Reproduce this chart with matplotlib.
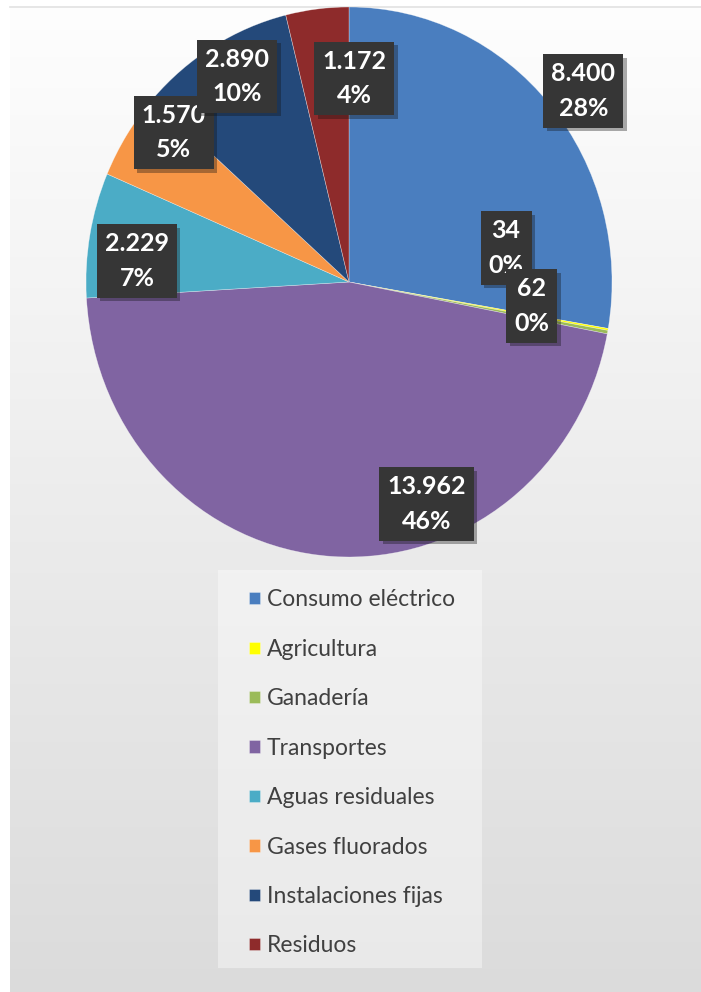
import numpy as np
import matplotlib
matplotlib.use('Agg')
import matplotlib.pyplot as plt
from matplotlib import patheffects as pe

# datos
categorias = ['Consumo eléctrico', 'Agricultura', 'Ganadería', 'Transportes',
              'Aguas residuales', 'Gases fluorados', 'Instalaciones fijas', 'Residuos']
valores = [8400, 34, 62, 13962, 2229, 1570, 2890, 1172]
colores = ['#4a7ebf', '#ffff00', '#9bbb59', '#8064a2',
           '#4bacc6', '#f79646', '#24497a', '#8e2b2b']

# ajuste de las etiquetas (radio relativo y giro en grados), como hace Excel
etq_radio = [1.13, 0.61, 0.70, 0.86, 0.81, 0.86, 0.86, 0.74]
etq_giro = [-2.2, 21.7, 3.3, 23.8, 4.5, -6.8, -1.5, -8.5]

W, H = 701, 992
fig = plt.figure(figsize=(W / 100, H / 100), dpi=100)
fig.patch.set_facecolor('white')

# fondo degradado
bg = fig.add_axes([10 / W, 0, 1 - 10 / W, 1 - 7 / H], zorder=0)
grad = np.linspace(0.995, 0.86, 256).reshape(-1, 1)
bg.imshow(np.dstack([grad, grad, grad]), aspect='auto', extent=[0, 1, 0, 1])
bg.set_axis_off()
fig.add_artist(plt.Line2D([10 / W, 1], [1 - 7 / H, 1 - 7 / H], color='#e2e2e2', lw=1.2))

# recuadro de la leyenda
fig.add_artist(plt.Rectangle((218 / W, 1 - 968 / H), 264 / W, 398 / H,
                             facecolor='white', alpha=0.4, edgecolor='none',
                             transform=fig.transFigure, zorder=1))

ax = fig.add_axes([86 / W, 1 - 557 / H, 526 / W, 550 / H], zorder=2)
ax.patch.set_alpha(0)
wedges, _ = ax.pie(valores, colors=colores, startangle=90, counterclock=False,
                   radius=1, wedgeprops=dict(linewidth=0.4, edgecolor=(1, 1, 1, 0.5)))
ax.set_aspect('auto')
ax.set_xlim(-1, 1)
ax.set_ylim(-1, 1)
ax.set_axis_off()

total = sum(valores)
acum = 0
for i, v in enumerate(valores):
    medio = acum + v / 2
    acum += v
    ang = np.deg2rad(90 - medio / total * 360 + etq_giro[i])
    x = etq_radio[i] * np.cos(ang)
    y = etq_radio[i] * np.sin(ang)
    txt = f"{v:,}".replace(',', '.') + "\n" + f"{round(100 * v / total)}%"
    t = ax.text(x, y, txt, ha='center', va='center', multialignment='center',
                color='white', fontsize=18, fontweight='bold', family='Lato',
                linespacing=1.6, zorder=10 + i,
                bbox=dict(boxstyle='square,pad=0.32', fc='#363636', ec='none'))
    t.get_bbox_patch().set_path_effects([
        pe.SimplePatchShadow(offset=(2.5, -2.5), alpha=0.35), pe.Normal()])

leg = fig.legend(wedges, categorias, loc='upper left',
                 bbox_to_anchor=(238 / W, 1 - 578 / H), frameon=False,
                 prop=dict(family='Lato', size=16.5), labelcolor='#404040',
                 handlelength=0.45, handleheight=0.45, handletextpad=0.3,
                 labelspacing=1.24, borderpad=0)

fig.savefig('out.png', dpi=100)
